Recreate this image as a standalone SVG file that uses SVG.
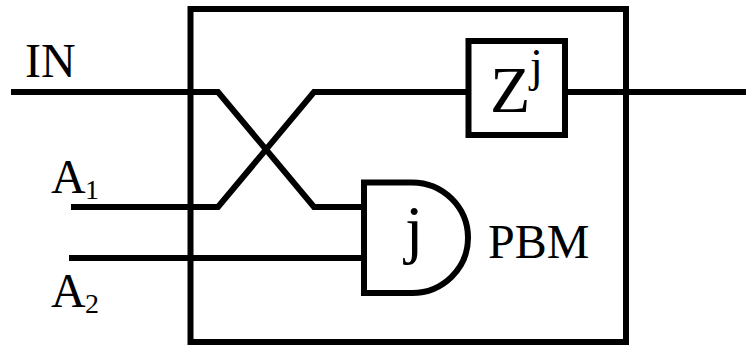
<svg xmlns="http://www.w3.org/2000/svg" width="746" height="345" viewBox="0 0 746 345">
<style>
.l{fill:none;stroke:#000;stroke-width:6}
text{font-family:"Liberation Serif",serif;fill:#000}
</style>
<rect width="746" height="345" fill="#fff"/>
<g id="connectors">
<path class="l" d="M11 92H218L314 207H364"/>
<path class="l" d="M71 207H218L314 92H468"/>
<path class="l" d="M69 258H364"/>
<path class="l" d="M565 92H746"/>
</g>
<g id="pbm"><rect class="l" x="190.500" y="9" width="435.500" height="333"/><text x="488" y="258" font-size="48">PBM</text></g>
<g id="delay"><rect class="l" x="468.500" y="41" width="96.500" height="94"/><text x="490" y="112" font-size="66">Z</text><text x="530" y="81" font-size="46">j</text></g>
<g id="gate"><path class="l" d="M364 182.500H412A56 55.250 0 0 1 412 293H364Z"/><text x="405" y="251" font-size="66">j</text></g>
<g id="labels">
<text x="25" y="77" font-size="48">IN</text>
<text x="51" y="193" font-size="48">A</text><text x="85" y="199" font-size="28">1</text>
<text x="51" y="307" font-size="48">A</text><text x="85" y="313" font-size="28">2</text>
</g>
</svg>
